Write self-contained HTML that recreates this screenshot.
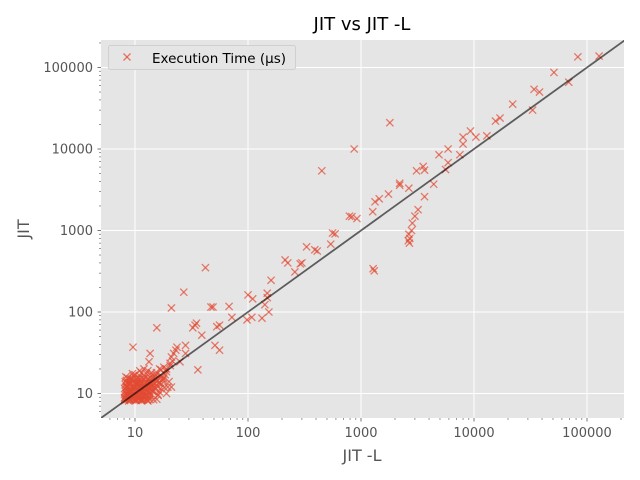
<!DOCTYPE html>
<html><head><meta charset="utf-8"><style>
html,body{margin:0;padding:0;background:#fff}
svg{display:block;font-family:"DejaVu Sans","Liberation Sans",sans-serif}
</style></head><body>
<svg id="chart" width="640" height="480" viewBox="0 0 640 480">
<rect x="0" y="0" width="640" height="480" fill="#fff"/>
<rect x="101" y="40" width="523" height="378" fill="#E5E5E5"/>
<g id="grid"></g>
<g id="ticks"></g>
<defs><clipPath id="clip"><rect x="101" y="40" width="523" height="378"/></clipPath></defs>
<g id="points" clip-path="url(#clip)"></g>
<g id="diag" clip-path="url(#clip)"></g>
<text x="362" y="30" text-anchor="middle" font-size="18" fill="#000">JIT vs JIT -L</text>
<text x="362" y="461" text-anchor="middle" font-size="16" fill="#555">JIT -L</text>
<text x="29" y="229" text-anchor="middle" font-size="16" fill="#555" transform="rotate(-90 29 229)">JIT</text>
<g>
<rect x="108.5" y="45.5" width="187" height="24" rx="2" fill="#E5E5E5" stroke="#d0d0d0" stroke-width="1"/>
<g stroke="#E24A33" stroke-opacity="0.75" stroke-width="1.3"><line x1="123.5" y1="53.5" x2="130.5" y2="60.5"/><line x1="123.5" y1="60.5" x2="130.5" y2="53.5"/></g>
<text x="152" y="63" font-size="13.5" fill="#000">Execution Time (µs)</text>
</g>
</svg>
<script>
// data (JIT -L on x, JIT on y)
const outlierX = [128000,83000,51000,69000,34000,38000,33000,22000,15500,17000,13000,9300,10400,8000,8000,7500,5900,4900,5900,5600,3550,3650,3100,4400,3650,2650,2200,2200,1750,1450,1330,1270,3200,3000,2850,2800,2650,2700,2620,2680,1800,870,450,790,830,920,560,590,540,330,390,410,300,1280,1310,42,27,21,47,49,68,72,100,110,148,160,213,225,290,260,98,108,133,153,141,148,15.6,9.6,34,35,32.5,39,28,23.5,53,56,51,56,36,25,28,23,22,13.6,13.3,21,20.4,19,21];
const outlierY = [138000,135000,87000,66000,54000,50000,30000,35500,22000,24000,14500,16600,14000,14000,11500,8500,10000,8500,6800,5600,6100,5500,5400,3700,2600,3300,3800,3600,2800,2450,2250,1700,1800,1500,1230,1000,900,800,750,700,21000,10000,5400,1500,1480,1400,930,910,680,630,580,560,400,340,320,350,175,112,115,115,117,86,162,145,170,245,435,400,390,310,80,86,84,100,123,150,64,37,69,73,64,52,39,37,66,69,39,34,19.5,24.5,31,34,31,31,24.5,28,23.5,10,12];
const clusterX = [8.1,8.2,8.3,8.4,8.5,8.2,8.4,8.6,8.8,9,9.2,9.4,9.6,9.8,9,9.3,9.6,10,10.2,10.4,10.6,10.8,11,11.2,10.5,10.8,11,11.4,11.6,11.8,12,12.2,12.4,12.6,12,12.3,12.6,13,13,13.3,13.6,13.9,14.2,14.5,14.8,15,15.3,14,15.6,16,16.4,16.8,17.2,17.6,18,18.5,19,17,19.5,20,8.6,9.4,10.1,11.5,12.8,13.7,8.9,9.7,10.9,12.3,14.4,15.8,16.5,8.3,9.5,11,12,10.3,11.1,13.2,14,15.5,16.5,18,9,10.6,12.5,13.5,8.7,9.9,11.7,13.1,17,19,20.5,21.5,8.1,8.1,8.2,8.5,9.1,10,11.3,12.9,14.6,8.4,9.3,10.4,11.9,13.4,15.2,8.1,8.8,9.8,11,12.2,13.8,16,18.2,
8.5,8.9,9.2,9.7,10.3,10.7,11.3,11.9,12.7,13.5,8.3,8.7,9.1,9.5,10,10.5,11,11.6,12.2,12.9,8.2,8.6,9.2,9.8,10.4,11.1,11.8,12.6,13.4,14.3,8.4,8.9,9.5,10.1,10.8,11.5,12.3,13.1,14,15,8.6,9.1,9.8,10.6,11.4,12.2,13,14.1,15.1,16.2,9,9.6,10.3,11.1,12,13,14.1,15.2,16.4,17.7];
const clusterY = [8.2,9,10,11,12,13,14.5,15.5,8.1,8.5,9.3,10.5,11.5,12.5,13.5,15,16.5,17,8.2,9,10,11,12,13,14,15.5,16.5,18,8.3,9.2,10.2,11.3,12.5,13.5,15,16,17.5,19,8.1,9,10.1,11.2,12.4,13.6,14.8,16,17,18,8.5,9.5,10.5,11.5,13,14.5,15.5,17,18.5,19.5,12,14,9.6,8.8,11.7,10.6,12,13.2,12.8,14.2,8.7,9.6,10.7,12.2,13.7,16,17.5,19,20,12.9,13.9,15.2,16.5,18,20,21,11.2,9.5,8.6,11.8,10.4,9.9,11.7,14.2,16.5,20,22,25,8.6,11.5,14,9.7,8.3,8.4,8.2,8.3,8.4,12.2,10.9,13.1,9.1,10.2,11.3,8.9,10.8,8.9,14.8,10.4,9.4,9.6,11.8,
8.4,8.4,8.4,8.4,8.4,8.4,8.4,8.4,8.4,8.4,9.4,9.4,9.4,9.4,9.4,9.4,9.4,9.4,9.4,9.4,10.6,10.6,10.6,10.6,10.6,10.6,10.6,10.6,10.6,10.6,11.9,11.9,11.9,11.9,11.9,11.9,11.9,11.9,11.9,11.9,13.4,13.4,13.4,13.4,13.4,13.4,13.4,13.4,13.4,13.4,15.1,15.1,15.1,15.1,15.1,15.1,15.1,15.1,15.1,15.1];
const xTicks = [10,100,1000,10000,100000];
const yTicks = [10,100,1000,10000,100000];
const xTickLabels = ["10","100","1000","10000","100000"];
const yTickLabels = ["10","100","1000","10000","100000"];

const NS = "http://www.w3.org/2000/svg";
const L = Math.log10;
function xs(v){ return 135 + 113*(L(v)-1); }
function ys(v){ return 393.5 - 81.5*(L(v)-1); }
function mk(tag, attrs, parent){ const e=document.createElementNS(NS,tag); for(const k in attrs) e.setAttribute(k,attrs[k]); parent.appendChild(e); return e; }

const grid=document.getElementById('grid'), ticks=document.getElementById('ticks');
xTicks.forEach((v,i)=>{
  const g=mk('line',{x1:xs(v),x2:xs(v),y1:40,y2:418,stroke:'#fff','stroke-width':1},grid);
  
  
  const t=mk('line',{x1:xs(v),x2:xs(v),y1:418,y2:421.5,stroke:'#555','stroke-width':0.8},ticks);
  
  
  const lb=mk('text',{x:xs(v),y:437,'text-anchor':'middle','font-size':13,fill:'#555'},ticks);
  lb.textContent=xTickLabels[i];
  
  
});
yTicks.forEach((v,i)=>{
  const g=mk('line',{x1:101,x2:624,y1:ys(v),y2:ys(v),stroke:'#fff','stroke-width':1},grid);
  
  
  const t=mk('line',{x1:97.5,x2:101,y1:ys(v),y2:ys(v),stroke:'#555','stroke-width':0.8},ticks);
  
  
  const lb=mk('text',{x:93,y:ys(v)+4.5,'text-anchor':'end','font-size':13,fill:'#555'},ticks);
  lb.textContent=yTickLabels[i];
  
  
});
// minor ticks
for(let d=0; d<=5; d++){
  for(let m=2;m<=9;m++){
    const v=m*Math.pow(10,d);
    if(xs(v)>101 && xs(v)<624){
      const t=mk('line',{x1:xs(v),x2:xs(v),y1:418,y2:420,stroke:'#555','stroke-width':0.6},ticks);
      
      
    }
    if(ys(v)>40 && ys(v)<418){
      const t=mk('line',{x1:99,x2:101,y1:ys(v),y2:ys(v),stroke:'#555','stroke-width':0.6},ticks);
      
      
    }
  }
}
const pts=document.getElementById('points');
function drawX(x,y){
  const cx=xs(x), cy=ys(y), r=3.6;
  const g=mk('g',{stroke:'#E24A33','stroke-opacity':0.7,'stroke-width':1.3},pts);
  
  
  mk('line',{x1:cx-r,y1:cy-r,x2:cx+r,y2:cy+r},g);
  mk('line',{x1:cx-r,y1:cy+r,x2:cx+r,y2:cy-r},g);
}
outlierX.forEach((x,i)=>drawX(x,outlierY[i]));
clusterX.forEach((x,i)=>drawX(x,clusterY[i]));
const d=mk('line',{x1:xs(4),y1:ys(4),x2:xs(300000),y2:ys(300000),stroke:'#000','stroke-opacity':0.6,'stroke-width':1.8},document.getElementById('diag'));


</script>
</body></html>
